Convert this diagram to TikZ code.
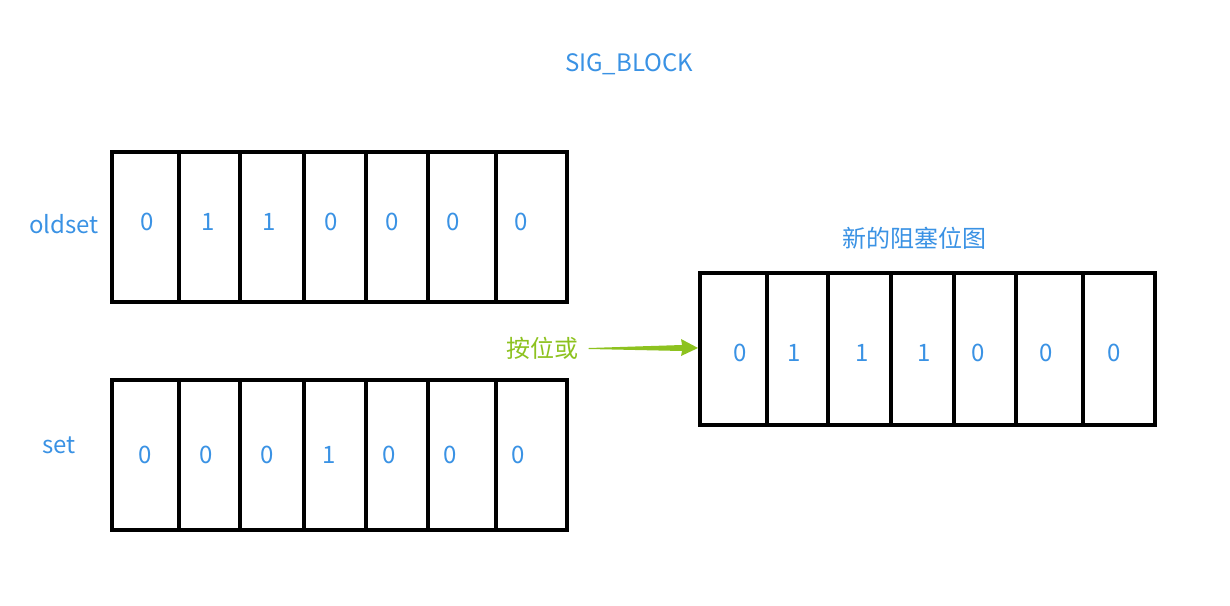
\documentclass[tikz,border=0pt]{standalone}
\usepackage{fontspec}
\newfontfamily\cjk{Noto Sans CJK SC}
\usepackage{xcolor}
\usetikzlibrary{calc}

\definecolor{txtblue}{RGB}{58,146,228}
\definecolor{orgreen}{RGB}{141,194,31}

\begin{document}
\begin{tikzpicture}[x=0.75pt, y=-0.75pt,
    lbl/.style={text=txtblue, font=\cjk\fontsize{18}{21}\selectfont},
    bit/.style={text=txtblue, font=\cjk\fontsize{18}{21}\selectfont},
    cellline/.style={line width=3pt, black}]
\useasboundingbox (0,0) rectangle (1230,606);

% titles
\node[lbl] (title) at (629,64) {SIG\_BLOCK};
\node[lbl] (oldlbl) at (64,224) {oldset};
\node[lbl] (setlbl) at (59,445) {set};
\node[lbl] (newlbl) at (914,238) {新的阻塞位图};
\node[text=orgreen, font=\cjk\fontsize{18}{21}\selectfont] (or) at (542,348) {按位或};

% oldset row
\draw[cellline] (112,152) rectangle (567,302);
\foreach \x in {179,240,304,366,428,496}
    \draw[cellline] (\x,152) -- (\x,302);
\foreach \v/\x [count=\i] in {0/147,1/208,1/269,0/331,0/392,0/453,0/521}
    \node[bit] (old\i) at (\x,222) {\v};

% set row
\draw[cellline] (112,380) rectangle (567,530);
\foreach \x in {179,240,304,366,428,496}
    \draw[cellline] (\x,380) -- (\x,530);
\foreach \v/\x [count=\i] in {0/145,0/206,0/267,1/329,0/389,0/450,0/518}
    \node[bit] (set\i) at (\x,455) {\v};

% new blocked mask
\draw[cellline] (700,273) rectangle (1155,425);
\foreach \x in {767,828,891,954,1016,1083}
    \draw[cellline] (\x,273) -- (\x,425);
\foreach \v/\x [count=\i] in {0/740,1/794,1/862,1/924,0/978,0/1046,0/1114}
    \node[bit] (new\i) at (\x,353) {\v};
\coordinate (newin) at (698,348);

% tapered arrow
\coordinate (arrS) at ($(or.east)+(6,0)$);
\fill[orgreen] (arrS) -- ($(newin)+(-16,-3)$) -- ($(newin)+(-17,-9)$) -- (newin)
    -- ($(newin)+(-17,8)$) -- ($(newin)+(-16,3)$) -- ($(arrS)+(0,1)$) -- cycle;
\end{tikzpicture}
\end{document}
